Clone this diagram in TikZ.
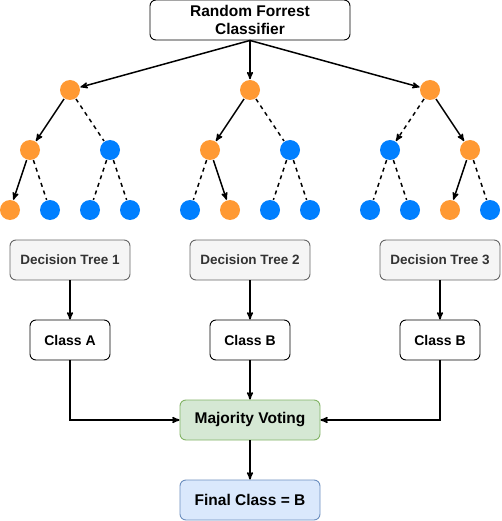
\documentclass[tikz,border=0pt]{standalone}
\usepackage{fontspec}
\setmainfont{Liberation Sans}
\usetikzlibrary{arrows}
\usetikzlibrary{positioning}

\definecolor{treeorange}{HTML}{FF9933}
\definecolor{treeblue}{HTML}{007FFF}
\definecolor{dtfill}{HTML}{F5F5F5}
\definecolor{dtline}{HTML}{666666}
\definecolor{dttext}{HTML}{333333}
\definecolor{votefill}{HTML}{D5E8D4}
\definecolor{voteline}{HTML}{82B366}
\definecolor{finalfill}{HTML}{DAE8FC}
\definecolor{finalline}{HTML}{6C8EBF}

\begin{document}
\begin{tikzpicture}[x=1pt,y=1pt,>=stealth',on grid,line width=1.5pt,
  orange node/.style={circle,fill=treeorange,minimum size=20pt,inner sep=0pt},
  blue node/.style={circle,fill=treeblue,minimum size=20pt,inner sep=0pt},
  box/.style={rectangle,draw,line width=0.9pt,rounded corners=6pt,minimum height=40pt,
    inner sep=0pt,font=\bfseries\fontsize{14}{17}\selectfont},
  main box/.style={box,minimum width=200pt,align=center,font=\bfseries\fontsize{15.5}{18}\selectfont},
  tree box/.style={box,minimum width=120pt,fill=dtfill,draw=dtline,text=dttext,
    font=\bfseries\fontsize{13.5}{16}\selectfont},
  class box/.style={box,minimum width=80pt,fill=white},
  vote box/.style={box,minimum width=140pt,fill=votefill,draw=voteline,font=\bfseries\fontsize{15.5}{18}\selectfont},
  final box/.style={box,minimum width=140pt,fill=finalfill,draw=finalline,font=\bfseries\fontsize{15.5}{18}\selectfont},
  unused/.style={-,dash pattern=on 4pt off 4pt}]

  \useasboundingbox (0,0) rectangle (501,-521);

  \node[main box] (rf) at (250,-20) {Random Forrest\\Classifier};

  % three trees
  \node[orange node] (t2) [below=70pt of rf] {};
  \node[orange node] (t1) [left=180pt of t2] {};
  \node[orange node] (t3) [right=180pt of t2] {};

  \node[orange node] (t1l) [below left=60pt and 40pt of t1] {};
  \node[blue node] (t1r) [below right=60pt and 40pt of t1] {};
  \node[orange node] (t1ll) [below left=60pt and 20pt of t1l] {};
  \node[blue node] (t1lr) [below right=60pt and 20pt of t1l] {};
  \node[blue node] (t1rl) [below left=60pt and 20pt of t1r] {};
  \node[blue node] (t1rr) [below right=60pt and 20pt of t1r] {};

  \node[orange node] (t2l) [below left=60pt and 40pt of t2] {};
  \node[blue node] (t2r) [below right=60pt and 40pt of t2] {};
  \node[blue node] (t2ll) [below left=60pt and 20pt of t2l] {};
  \node[orange node] (t2lr) [below right=60pt and 20pt of t2l] {};
  \node[blue node] (t2rl) [below left=60pt and 20pt of t2r] {};
  \node[blue node] (t2rr) [below right=60pt and 20pt of t2r] {};

  \node[blue node] (t3l) [below left=60pt and 40pt of t3] {};
  \node[orange node] (t3r) [below right=60pt and 40pt of t3] {};
  \node[blue node] (t3ll) [below left=60pt and 20pt of t3l] {};
  \node[blue node] (t3lr) [below right=60pt and 20pt of t3l] {};
  \node[orange node] (t3rl) [below left=60pt and 20pt of t3r] {};
  \node[blue node] (t3rr) [below right=60pt and 20pt of t3r] {};

  \path[->]
    (rf.south) edge (t1)
    (rf.south) edge (t2)
    (rf.south) edge (t3)
    (t1) edge (t1l)
    (t1) edge[unused] (t1r)
    (t1l) edge (t1ll)
    (t1l) edge[unused] (t1lr)
    (t1r) edge[unused] (t1rl)
    (t1r) edge[unused] (t1rr)
    (t2) edge (t2l)
    (t2) edge[unused] (t2r)
    (t2l) edge[unused] (t2ll)
    (t2l) edge (t2lr)
    (t2r) edge[unused] (t2rl)
    (t2r) edge[unused] (t2rr)
    (t3) edge[dash pattern=on 4pt off 4pt] (t3l)
    (t3) edge (t3r)
    (t3l) edge[unused] (t3ll)
    (t3l) edge[unused] (t3lr)
    (t3r) edge (t3rl)
    (t3r) edge[unused] (t3rr);

  % results
  \node[tree box] (d1) [below=170pt of t1] {Decision Tree 1};
  \node[tree box] (d2) [below=170pt of t2] {Decision Tree 2};
  \node[tree box] (d3) [right=190pt of d2] {Decision Tree 3};

  \node[class box] (c1) [below=80pt of d1] {Class A};
  \node[class box] (c2) [below=80pt of d2] {Class B};
  \node[class box] (c3) [below=80pt of d3] {Class B};

  \node[vote box] (vote) [below=80pt of c2] {Majority Voting};
  \node[final box] (final) [below=80pt of vote] {Final Class = B};

  \path[->]
    (d1) edge (c1)
    (d2) edge (c2)
    (d3) edge (c3)
    (c2) edge (vote)
    (vote) edge (final);
  \draw[->] (c1) |- (vote);
  \draw[->] (c3) |- (vote);
\end{tikzpicture}
\end{document}
